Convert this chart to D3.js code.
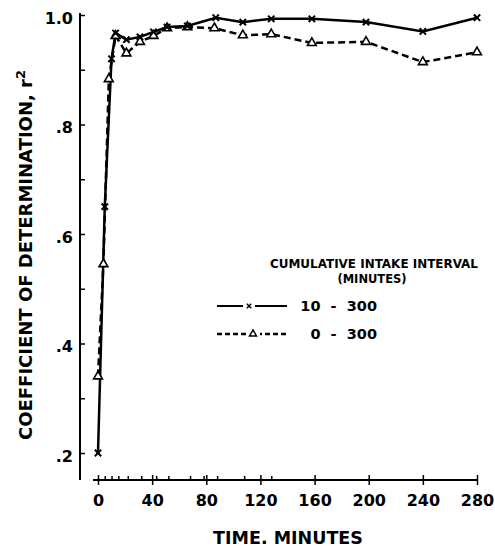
<!DOCTYPE html>
<html>
<head>
<meta charset="utf-8">
<script src="https://cdn.jsdelivr.net/npm/d3@7"></script>
<style>
  body { margin: 0; background: white; }
  text { font-family: "DejaVu Sans", sans-serif; font-weight: bold; fill: black; }
</style>
</head>
<body>
<div id="chart"></div>
<script>
// sample times (minutes) and r^2 values
var timesX = [0, 5, 10, 13, 21, 31, 41, 51, 66, 87, 107, 128, 158, 198, 240, 280];
var valuesX = [0.20, 0.65, 0.92, 0.967, 0.955, 0.96, 0.969, 0.978, 0.98, 0.995, 0.987, 0.993, 0.993, 0.987, 0.97, 0.995];

var timesT = [0, 4, 8, 13, 21, 31, 41, 51, 66, 86, 107, 128, 158, 198, 240, 280];
var valuesT = [0.34, 0.545, 0.883, 0.962, 0.93, 0.951, 0.962, 0.976, 0.978, 0.976, 0.963, 0.965, 0.949, 0.951, 0.914, 0.932];

var xMajorTicks = [0, 40, 80, 120, 160, 200, 240, 280];
var xMinorTicks = [5, 10, 15, 22, 32, 43, 52, 68, 78, 88, 108, 128];
var yTicks = [0.2, 0.3, 0.4, 0.5, 0.6, 0.7, 0.8, 0.9, 1.0];
var yLabels = {"0.2": ".2", "0.4": ".4", "0.6": ".6", "0.8": ".8", "1": "1.0"};

var legendNames = ["10  -  300", "0  -  300"];

var width = 495, height = 549;

var svg = d3.select("#chart").append("svg")
    .attr("width", width)
    .attr("height", height);

var x = d3.scaleLinear().domain([0, 280]).range([98, 477]);
var y = d3.scaleLinear().domain([0.2, 1.0]).range([453, 15]);
var xAxisY = 480, yAxisX = 80;

// y axis
var yAxis = svg.append("g")
    .attr("transform", "translate(" + yAxisX + ",0)")
    .call(d3.axisLeft(y).tickValues(yTicks).tickSize(-5).tickPadding(7)
      .tickFormat(function(d) { return yLabels[String(+d.toFixed(1))] || ""; }));
yAxis.select(".domain").remove();
yAxis.selectAll("line").attr("stroke", "black").attr("stroke-width", 1.5);
yAxis.selectAll("text").attr("font-size", 16).attr("dy", "0.5em")
    .style("font-family", "DejaVu Sans").style("font-weight", "bold");
yAxis.append("line")
    .attr("x1", 0).attr("x2", 0)
    .attr("y1", y(1.0) - 2).attr("y2", xAxisY)
    .attr("stroke", "black").attr("stroke-width", 2);

// x axis
var xAxis = svg.append("g")
    .attr("transform", "translate(0," + xAxisY + ")")
    .call(d3.axisBottom(x).tickValues(xMajorTicks).tickSize(5).tickPadding(10)
      .tickFormat(d3.format("d")));
xAxis.select(".domain").remove();
xAxis.selectAll("line").attr("y1", -5).attr("y2", 5).attr("stroke", "black").attr("stroke-width", 1.5);
xAxis.selectAll("text").attr("font-size", 16)
    .style("font-family", "DejaVu Sans").style("font-weight", "bold");
xAxis.append("line")
    .attr("x1", x(0) - 5).attr("x2", x(280))
    .attr("stroke", "black").attr("stroke-width", 2);

var xMinor = svg.append("g")
    .attr("transform", "translate(0," + xAxisY + ")")
    .call(d3.axisBottom(x).tickValues(xMinorTicks).tickSize(-4).tickFormat(""));
xMinor.select(".domain").remove();
xMinor.selectAll("line").attr("stroke", "black").attr("stroke-width", 1.5);

// axis titles
svg.append("text")
    .attr("x", 288).attr("y", 544)
    .attr("text-anchor", "middle")
    .attr("font-size", 17.5)
    .text("TIME. MINUTES");

var yTitle = svg.append("text")
    .attr("transform", "translate(32,255) rotate(-90)")
    .attr("text-anchor", "middle")
    .attr("font-size", 18);
yTitle.append("tspan").text("COEFFICIENT OF DETERMINATION, r");
yTitle.append("tspan").attr("font-size", 13).attr("dy", -7).text("2");

// series
var line = d3.line()
    .x(function(d) { return x(d[0]); })
    .y(function(d) { return y(d[1]); });

var dataX = d3.zip(timesX, valuesX);
var dataT = d3.zip(timesT, valuesT);

svg.append("path")
    .datum(dataT)
    .attr("d", line)
    .attr("fill", "none")
    .attr("stroke", "black")
    .attr("stroke-width", 2.5)
    .attr("stroke-dasharray", "7,4");

svg.append("path")
    .datum(dataX)
    .attr("d", line)
    .attr("fill", "none")
    .attr("stroke", "black")
    .attr("stroke-width", 2.5);

var xSym = d3.symbol().type(d3.symbolX).size(28);
var tSym = d3.symbol().type(d3.symbolTriangle).size(34);

svg.append("g").selectAll("path")
  .data(dataT)
  .enter()
  .append("path")
    .attr("transform", function(d) { return "translate(" + x(d[0]) + "," + y(d[1]) + ")"; })
    .attr("d", tSym)
    .attr("fill", "white")
    .attr("stroke", "black")
    .attr("stroke-width", 1.6);

svg.append("g").selectAll("path")
  .data(dataX)
  .enter()
  .append("path")
    .attr("transform", function(d) { return "translate(" + x(d[0]) + "," + y(d[1]) + ")"; })
    .attr("d", xSym)
    .attr("fill", "none")
    .attr("stroke", "black")
    .attr("stroke-width", 2);

// legend
var legend = svg.append("g");
legend.append("text")
    .attr("x", 374).attr("y", 268)
    .attr("text-anchor", "middle")
    .attr("font-size", 11.5)
    .attr("textLength", 208)
    .attr("lengthAdjust", "spacingAndGlyphs")
    .text("CUMULATIVE INTAKE INTERVAL");
legend.append("text")
    .attr("x", 372).attr("y", 283)
    .attr("text-anchor", "middle")
    .attr("font-size", 11.5)
    .text("(MINUTES)");

var rows = [306, 334];
legend.append("line")
    .attr("x1", 217).attr("x2", 287).attr("y1", rows[0]).attr("y2", rows[0])
    .attr("stroke", "black").attr("stroke-width", 2);
legend.append("rect")
    .attr("x", 243).attr("y", rows[0] - 5).attr("width", 12).attr("height", 10)
    .attr("fill", "white");
legend.append("path")
    .attr("transform", "translate(249," + rows[0] + ")")
    .attr("d", d3.symbol().type(d3.symbolX).size(14))
    .attr("stroke", "black").attr("stroke-width", 1.5);

legend.append("line")
    .attr("x1", 217).attr("x2", 287).attr("y1", rows[1]).attr("y2", rows[1])
    .attr("stroke", "black").attr("stroke-width", 2.5)
    .attr("stroke-dasharray", "5,3");
legend.append("rect")
    .attr("x", 246).attr("y", rows[1] - 6).attr("width", 14).attr("height", 12)
    .attr("fill", "white");
legend.append("path")
    .attr("transform", "translate(253," + rows[1] + ")")
    .attr("d", d3.symbol().type(d3.symbolTriangle).size(22))
    .attr("fill", "white").attr("stroke", "black").attr("stroke-width", 1.4);

legend.selectAll(".lbl")
  .data(legendNames)
  .enter()
  .append("text")
    .attr("class", "lbl")
    .attr("x", 377)
    .attr("y", function(d, i) { return rows[i] + 5; })
    .attr("text-anchor", "end")
    .attr("font-size", 14.5)
    .style("white-space", "pre")
    .text(function(d) { return d; });
</script>
</body>
</html>
